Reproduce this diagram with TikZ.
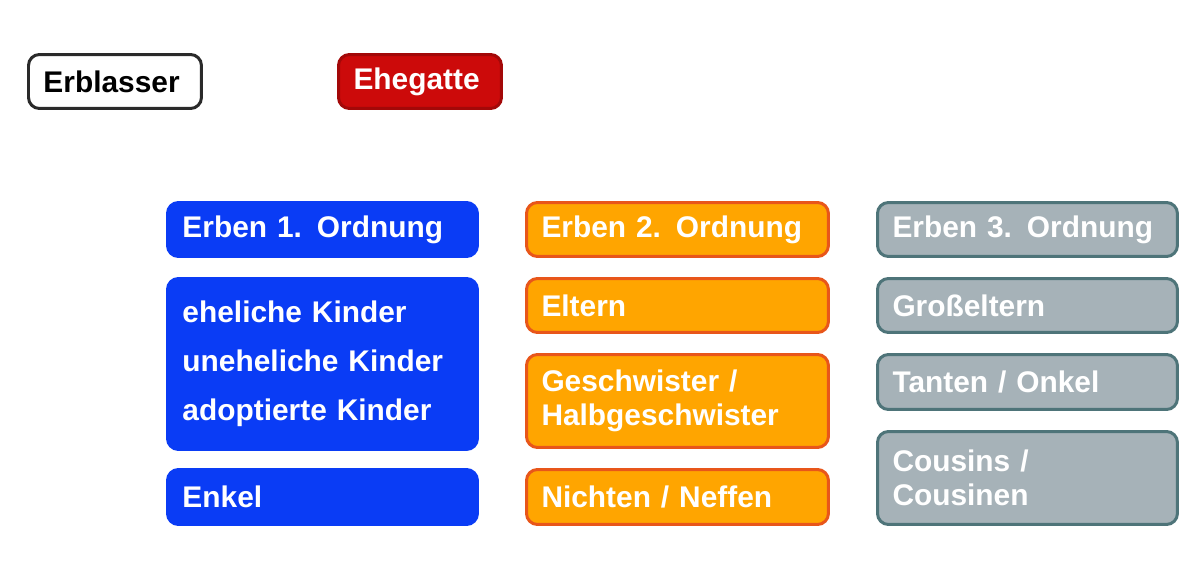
\documentclass[tikz,border=0pt]{standalone}
\usepackage{fontspec}
\setmainfont{Liberation Sans}
\usetikzlibrary{backgrounds}
\definecolor{ordblue}{HTML}{0A3CF5}
\definecolor{ordorange}{HTML}{FFA500}
\definecolor{ordorangeline}{HTML}{E8561A}
\definecolor{ordgrey}{HTML}{A6B2B8}
\definecolor{ordgreyline}{HTML}{4E7479}
\definecolor{ordred}{HTML}{CC0A0A}
\definecolor{linegrey}{HTML}{2A2A2A}
\tikzset{
  box/.style={draw, line width=0.06cm, rounded corners=0.22cm, anchor=north west,
    text=white, font=\fontsize{17}{28}\selectfont\bfseries, align=left,
    inner xsep=0.3cm, inner ysep=0pt},
  first/.style={box, fill=ordblue, draw=ordblue},
  second/.style={box, fill=ordorange, draw=ordorangeline},
  third/.style={box, fill=ordgrey, draw=ordgreyline},
  link/.style={draw=linegrey, line width=0.12cm}
}
\begin{document}
\begin{tikzpicture}[x=0.02cm, y=-0.02cm]
    \useasboundingbox[fill=white] (0,0) rectangle (1200,582);
    % top row
    \node[box, fill=white, draw=linegrey, text=black, minimum width=3.46cm, minimum height=1.08cm, text width=2.86cm] (erblasser) at (27,53) {Erblasser};
    \node[box, fill=ordred, draw=ordred!80!black, minimum width=3.26cm, minimum height=1.08cm, text width=2.66cm] (ehegatte) at (337,53) {Ehegatte};
    % first order
    \node[first, minimum width=6.2cm, minimum height=1.08cm, text width=5.6cm] (erben1) at (166,201) {Erben 1. Ordnung};
    \node[first, minimum width=6.2cm, minimum height=3.42cm, text width=5.6cm] (kinder) at (166,277) {eheliche Kinder\\uneheliche Kinder\\adoptierte Kinder};
    \node[first, minimum width=6.2cm, minimum height=1.1cm, text width=5.6cm] (enkel) at (166,468) {Enkel};
    % second order
    \node[second, minimum width=6.04cm, minimum height=1.08cm, text width=5.44cm] (erben2) at (525,201) {Erben 2. Ordnung};
    \node[second, minimum width=6.04cm, minimum height=1.08cm, text width=5.44cm] (eltern) at (525,277) {Eltern};
    \node[second, minimum width=6.04cm, minimum height=1.86cm, text width=5.44cm, font=\fontsize{17}{19}\selectfont\bfseries] (geschwister) at (525,353) {Geschwister /\\Halbgeschwister};
    \node[second, minimum width=6.04cm, minimum height=1.1cm, text width=5.44cm] (nichten) at (525,468) {Nichten / Neffen};
    % third order
    \node[third, minimum width=6cm, minimum height=1.08cm, text width=5.4cm] (erben3) at (876,201) {Erben 3. Ordnung};
    \node[third, minimum width=6cm, minimum height=1.08cm, text width=5.4cm] (grosseltern) at (876,277) {Großeltern};
    \node[third, minimum width=6cm, minimum height=1.1cm, text width=5.4cm] (tanten) at (876,353) {Tanten / Onkel};
    \node[third, minimum width=6cm, minimum height=1.86cm, text width=5.4cm, font=\fontsize{17}{19}\selectfont\bfseries] (cousins) at (876,430) {Cousins /\\Cousinen};
    \coordinate (bar) at (115,143);
    \begin{scope}[on background layer]
        \draw[link] (erblasser.east) -- (ehegatte.west);
        \draw[link] (erblasser.south -| bar) -- (bar) -| (erben3.north);
        \draw[link] (bar) -| (erben1.north);
        \draw[link] (bar) -| (erben2.north);
        \draw[link] (erben1.south) -- (enkel.north);
        \draw[link] (erben2.south) -- (nichten.north);
        \draw[link] (erben3.south) -- (cousins.north);
    \end{scope}
\end{tikzpicture}
\end{document}
